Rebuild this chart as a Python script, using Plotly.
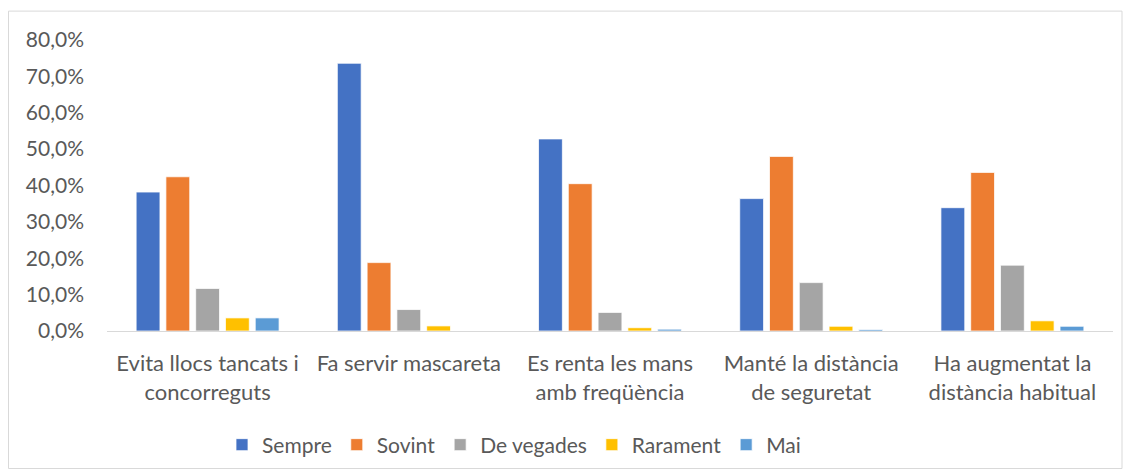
import plotly.graph_objects as go

categories = ["Evita llocs tancats i<br>concorreguts", "Fa servir mascareta",
              "Es renta les mans<br>amb freqüència", "Manté la distància<br>de seguretat",
              "Ha augmentat la<br>distància habitual"]
series_names = ["Sempre", "Sovint", "De vegades", "Rarament", "Mai"]
sempre = [0.382, 0.736, 0.528, 0.364, 0.339]
sovint = [0.424, 0.188, 0.405, 0.480, 0.436]
de_vegades = [0.117, 0.059, 0.051, 0.133, 0.181]
rarament = [0.036, 0.014, 0.009, 0.013, 0.028]
mai = [0.036, 0.0, 0.005, 0.004, 0.013]
colors = ["#4472C4", "#ED7D31", "#A5A5A5", "#FFC000", "#5B9BD5"]
tick_vals = [0, 0.1, 0.2, 0.3, 0.4, 0.5, 0.6, 0.7, 0.8]

FONT = "Lato"
TXT = "#595959"

fig = go.Figure()
for name, vals, c in zip(series_names, [sempre, sovint, de_vegades, rarament, mai], colors):
    fig.add_trace(go.Bar(x=categories, y=vals, name=name, marker_color=c,
                         marker_line=dict(color="white", width=0.75)))

OFF = 8  # page body margin
W, H = 1131 - OFF, 476 - OFF
L, T = 107 - OFF, 40 - OFF
R = W - (1113 - OFF)
B = H - (332 - OFF)
pw, ph = W - L - R, H - T - B

def px(sx):
    return (sx - OFF - L) / pw

def py(sy):
    return (H - B - (sy - OFF)) / ph

fig.update_layout(
    width=W, height=H,
    margin=dict(l=L, r=R, t=T, b=B),
    paper_bgcolor="white", plot_bgcolor="white",
    barmode="group", bargap=0.26, bargroupgap=0.2,
    separators=",.",
    font=dict(family=FONT, size=21, color=TXT),
    showlegend=True,
    legend=dict(orientation="h", x=px(514), xanchor="center", y=py(445), yanchor="middle",
                font=dict(family=FONT, size=21, color=TXT), itemwidth=30,
                traceorder="normal"),
    xaxis=dict(showline=True, linecolor="#D9D9D9", linewidth=1, ticks="",
               ticklabelstandoff=13, automargin=False,
               tickfont=dict(family=FONT, size=22, color=TXT), showgrid=False),
    yaxis=dict(range=[0, 0.8], tickvals=tick_vals, tickformat=".1%", showgrid=False,
               zeroline=False, showline=False, ticks="", ticklen=0,
               ticklabelstandoff=22, automargin=False,
               tickfont=dict(family=FONT, size=21, color=TXT)),
    shapes=[dict(type="rect", xref="paper", yref="paper",
                 x0=px(8.5), x1=px(1122), y0=py(470), y1=py(11),
                 line=dict(color="#D9D9D9", width=1), fillcolor="rgba(0,0,0,0)")],
)

fig.write_html("out.html")
